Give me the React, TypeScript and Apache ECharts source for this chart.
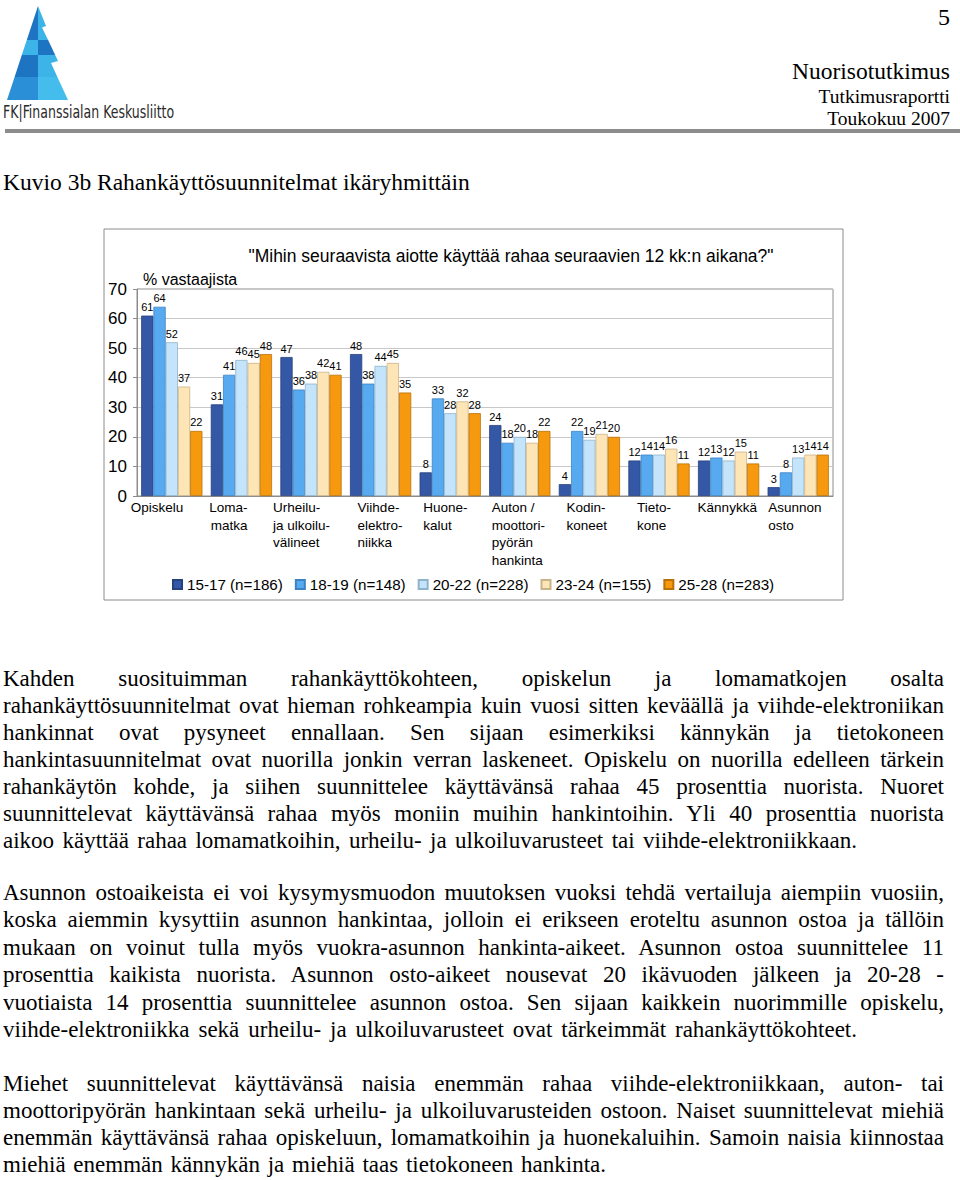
import React, { useEffect, useRef } from "react";
import * as echarts from "echarts";

// ---------- data ----------
const categories = [
  "Opiskelu",
  "Loma-\nmatka",
  "Urheilu-\nja ulkoilu-\nvälineet",
  "Viihde-\nelektro-\nniikka",
  "Huone-\nkalut",
  "Auton /\nmoottori-\npyörän\nhankinta",
  "Kodin-\nkoneet",
  "Tieto-\nkone",
  "Kännykkä",
  "Asunnon\nosto",
];
const seriesNames = ["15-17 (n=186)", "18-19 (n=148)", "20-22 (n=228)", "23-24 (n=155)", "25-28 (n=283)"];
const age1517 = [61, 31, 47, 48, 8, 24, 4, 12, 12, 3];
const age1819 = [64, 41, 36, 38, 33, 18, 22, 14, 13, 8];
const age2022 = [52, 46, 38, 44, 28, 20, 19, 14, 12, 13];
const age2324 = [37, 45, 42, 45, 32, 18, 21, 16, 15, 14];
const age2528 = [22, 48, 41, 35, 28, 22, 20, 11, 11, 14];
const yMin = 0;
const yMax = 70;
const yStep = 10;

const chartTitle = '"Mihin seuraavista aiotte käyttää rahaa seuraavien 12 kk:n aikana?"';
const yAxisName = "% vastaajista";

// ---------- styles / layout ----------
const colors = ["#3457a6", "#57aaf0", "#c3e4fa", "#fde5b5", "#f7990e"];
const borderColors = ["#27417c", "#3d82c0", "#8fb3c9", "#c9b38a", "#b87208"];
// [dx from category centre, text alignment]
const catLabelLayout: [number, string][] = [
  [-41, "left"],
  [6, "right"],
  [-38, "left"],
  [-23, "left"],
  [-27, "left"],
  [-28, "left"],
  [-23, "left"],
  [-22, "left"],
  [-31, "left"],
  [-30, "left"],
];
const SANS = "'Liberation Sans', Arial, sans-serif";
const SERIF = "'Liberation Serif', 'Times New Roman', serif";

const para1 = [
  "Kahden suosituimman rahankäyttökohteen, opiskelun ja lomamatkojen osalta",
  "rahankäyttösuunnitelmat ovat hieman rohkeampia kuin vuosi sitten keväällä ja viihde-elektroniikan",
  "hankinnat ovat pysyneet ennallaan.  Sen sijaan esimerkiksi kännykän ja tietokoneen",
  "hankintasuunnitelmat ovat nuorilla jonkin verran laskeneet. Opiskelu on nuorilla edelleen tärkein",
  "rahankäytön kohde, ja siihen suunnittelee käyttävänsä rahaa 45 prosenttia nuorista. Nuoret",
  "suunnittelevat käyttävänsä rahaa myös moniin muihin hankintoihin. Yli 40 prosenttia nuorista",
  "aikoo käyttää rahaa lomamatkoihin, urheilu- ja ulkoiluvarusteet tai viihde-elektroniikkaan.",
];
const para2 = [
  "Asunnon ostoaikeista ei voi kysymysmuodon muutoksen vuoksi tehdä vertailuja aiempiin vuosiin,",
  "koska aiemmin kysyttiin asunnon hankintaa, jolloin ei erikseen eroteltu asunnon ostoa ja tällöin",
  "mukaan on voinut tulla myös vuokra-asunnon hankinta-aikeet. Asunnon ostoa suunnittelee 11",
  "prosenttia kaikista nuorista. Asunnon osto-aikeet nousevat 20 ikävuoden jälkeen ja 20-28 -",
  "vuotiaista 14 prosenttia suunnittelee asunnon ostoa.  Sen sijaan kaikkein nuorimmille opiskelu,",
  "viihde-elektroniikka sekä urheilu- ja ulkoiluvarusteet ovat tärkeimmät rahankäyttökohteet.",
];
const para3 = [
  "Miehet suunnittelevat käyttävänsä naisia enemmän rahaa viihde-elektroniikkaan, auton- tai",
  "moottoripyörän hankintaan sekä urheilu- ja ulkoiluvarusteiden ostoon. Naiset suunnittelevat miehiä",
  "enemmän käyttävänsä rahaa opiskeluun, lomamatkoihin ja huonekaluihin. Samoin naisia kiinnostaa",
  "miehiä enemmän kännykän ja miehiä taas tietokoneen hankinta.",
];

type Line = { text: string; y: number; w: number };
const textLines: Line[] = [
  ...para1.map((t, i) => ({ text: t, y: 679 + i * 27, w: i === para1.length - 1 ? 854 : 941 })),
  ...para2.map((t, i) => ({ text: t, y: 893 + i * 27.4, w: i === para2.length - 1 ? 854 : 941 })),
  ...para3.map((t, i) => ({ text: t, y: 1084 + i * 27, w: i === para3.length - 1 ? 603 : 941 })),
];

function logoGraphics() {
  const dark = "#1c74c2";
  const light = "#3cb4e7";
  const mid = "#2a8fd6";
  const poly = (pts: number[][], fill: string) => ({ type: "polygon", shape: { points: pts }, style: { fill } });
  return [
    poly([[38, 6], [38, 40], [26.8, 40]], dark),
    poly([[26.8, 40], [38, 40], [38, 55], [21.8, 55]], light),
    poly([[21.8, 55], [38, 55], [38, 77], [14.6, 77]], dark),
    poly([[14.6, 77], [38, 77], [38, 100], [7, 100]], mid),
    poly([[38, 6], [46, 26], [42, 27.5], [48.1, 40], [38, 40]], light),
    poly([[38, 40], [48.1, 40], [55.2, 55], [38, 55]], dark),
    poly([[38, 55], [55.2, 55], [58, 61], [51, 63], [57.4, 77], [38, 77]], light),
    poly([[38, 77], [57.4, 77], [68, 100], [38, 100]], "#45bdec"),
  ];
}

function headerGraphics() {
  const t = (text: string, x: number, y: number, size: number, align: string, family = SERIF) => ({
    type: "text",
    x,
    y,
    style: { text, x: 0, y: 0, fontSize: size, fontFamily: family, fill: "#000", textAlign: align, textVerticalAlign: "middle" },
  });
  return [
    ...logoGraphics(),
    {
      type: "text",
      x: 3,
      y: 113,
      scaleX: 0.82,
      style: { text: "FK|Finanssialan Keskusliitto", x: 0, y: 0, fontSize: 17, fontFamily: "'DejaVu Sans Condensed', 'DejaVu Sans', sans-serif", fill: "#2b2b2b", textAlign: "left", textVerticalAlign: "middle" },
    },
    { type: "rect", shape: { x: 5, y: 129, width: 955, height: 4 }, style: { fill: "#8c8c8c" } },
    t("5", 950, 17, 24, "right"),
    t("Nuorisotutkimus", 950, 71, 23.5, "right"),
    t("Tutkimusraportti", 950, 96, 19.5, "right"),
    t("Toukokuu 2007", 950, 118, 19.5, "right"),
    t("Kuvio 3b Rahankäyttösuunnitelmat ikäryhmittäin", 3, 182, 23.5, "left"),
    { type: "rect", shape: { x: 104, y: 229, width: 739, height: 371 }, style: { fill: "none", stroke: "#8c8c8c", lineWidth: 1 } },
  ];
}

export default function App() {
  const ref = useRef<HTMLDivElement>(null);

  useEffect(() => {
    if (!ref.current) return;
    const chart = echarts.init(ref.current, null, { renderer: "svg" });
    const seriesData = [age1517, age1819, age2022, age2324, age2528];
    const base = headerGraphics();
    chart.setOption({
      animation: false,
      backgroundColor: "#fff",
      textStyle: { fontFamily: SANS },
      title: {
        text: chartTitle,
        left: 511,
        top: 247,
        textAlign: "center",
        padding: 0,
        textStyle: { fontSize: 17.5, fontWeight: "normal", color: "#000", fontFamily: SANS },
      },
      grid: {
        left: 137,
        right: 127,
        top: 289,
        bottom: 684,
        show: true,
        borderColor: "#8c8c8c",
        borderWidth: 1,
        containLabel: false,
      },
      legend: {
        data: seriesNames,
        left: 172,
        top: 577,
        padding: 0,
        icon: "rect",
        itemWidth: 9,
        itemHeight: 9,
        itemGap: 12,
        textStyle: { fontSize: 15.2, color: "#000", fontFamily: SANS },
      },
      xAxis: {
        type: "category",
        data: categories,
        axisLine: { show: true, lineStyle: { color: "#8c8c8c" } },
        axisTick: { show: false },
        axisLabel: { show: false },
        splitLine: { show: false },
      },
      yAxis: {
        type: "value",
        min: yMin,
        max: yMax,
        interval: yStep,
        name: yAxisName,
        nameLocation: "end",
        nameGap: 10,
        nameTextStyle: { fontSize: 16, color: "#000", align: "left", verticalAlign: "middle", padding: [0, 0, 0, 6], fontFamily: SANS },
        axisLine: { show: true, lineStyle: { color: "#8c8c8c" } },
        axisTick: { show: true, length: 4, lineStyle: { color: "#8c8c8c" } },
        axisLabel: { fontSize: 17, color: "#000", margin: 10, fontFamily: SANS },
        splitLine: { show: true, lineStyle: { color: "#c8c8c8", width: 1 } },
      },
      series: seriesData.map((d, k) => ({
        type: "bar",
        name: seriesNames[k],
        data: d,
        barGap: "0%",
        barCategoryGap: "12%",
        itemStyle: { color: colors[k], borderColor: borderColors[k], borderWidth: 0.8 },
        label: { show: true, position: "top", distance: 3, fontSize: 11, color: "#000", fontFamily: SANS },
      })),
      graphic: base,
    });

    const catLabels = categories.map((c, i) => {
      const cx = chart.convertToPixel({ xAxisIndex: 0 }, i) as number;
      const [dx, align] = catLabelLayout[i];
      return {
        type: "text",
        x: cx + dx,
        y: 499,
        style: {
          text: c,
          x: 0,
          y: 0,
          fontSize: 13.5,
          fontFamily: SANS,
          fill: "#000",
          textAlign: align,
          textVerticalAlign: "top",
          lineHeight: 17.5,
        },
      };
    });
    chart.setOption({ graphic: [...base, ...catLabels] });

    return () => chart.dispose();
  }, []);

  return (
    <div style={{ position: "absolute", left: 0, top: 0, width: 960, height: 1180, background: "#fff", overflow: "hidden" }}>
      <div ref={ref} style={{ position: "absolute", left: 0, top: 0, width: 960, height: 1180 }} />
      {textLines.map((l, i) => (
        <div
          key={i}
          style={{
            position: "absolute",
            left: 3,
            top: l.y - 14,
            width: l.w,
            height: 28,
            lineHeight: "28px",
            fontFamily: SERIF,
            fontSize: 23,
            color: "#000",
            textAlign: "justify",
            textAlignLast: "justify" as any,
            overflow: "hidden",
            pointerEvents: "none",
          }}
        >
          {l.text}
        </div>
      ))}
    </div>
  );
}
